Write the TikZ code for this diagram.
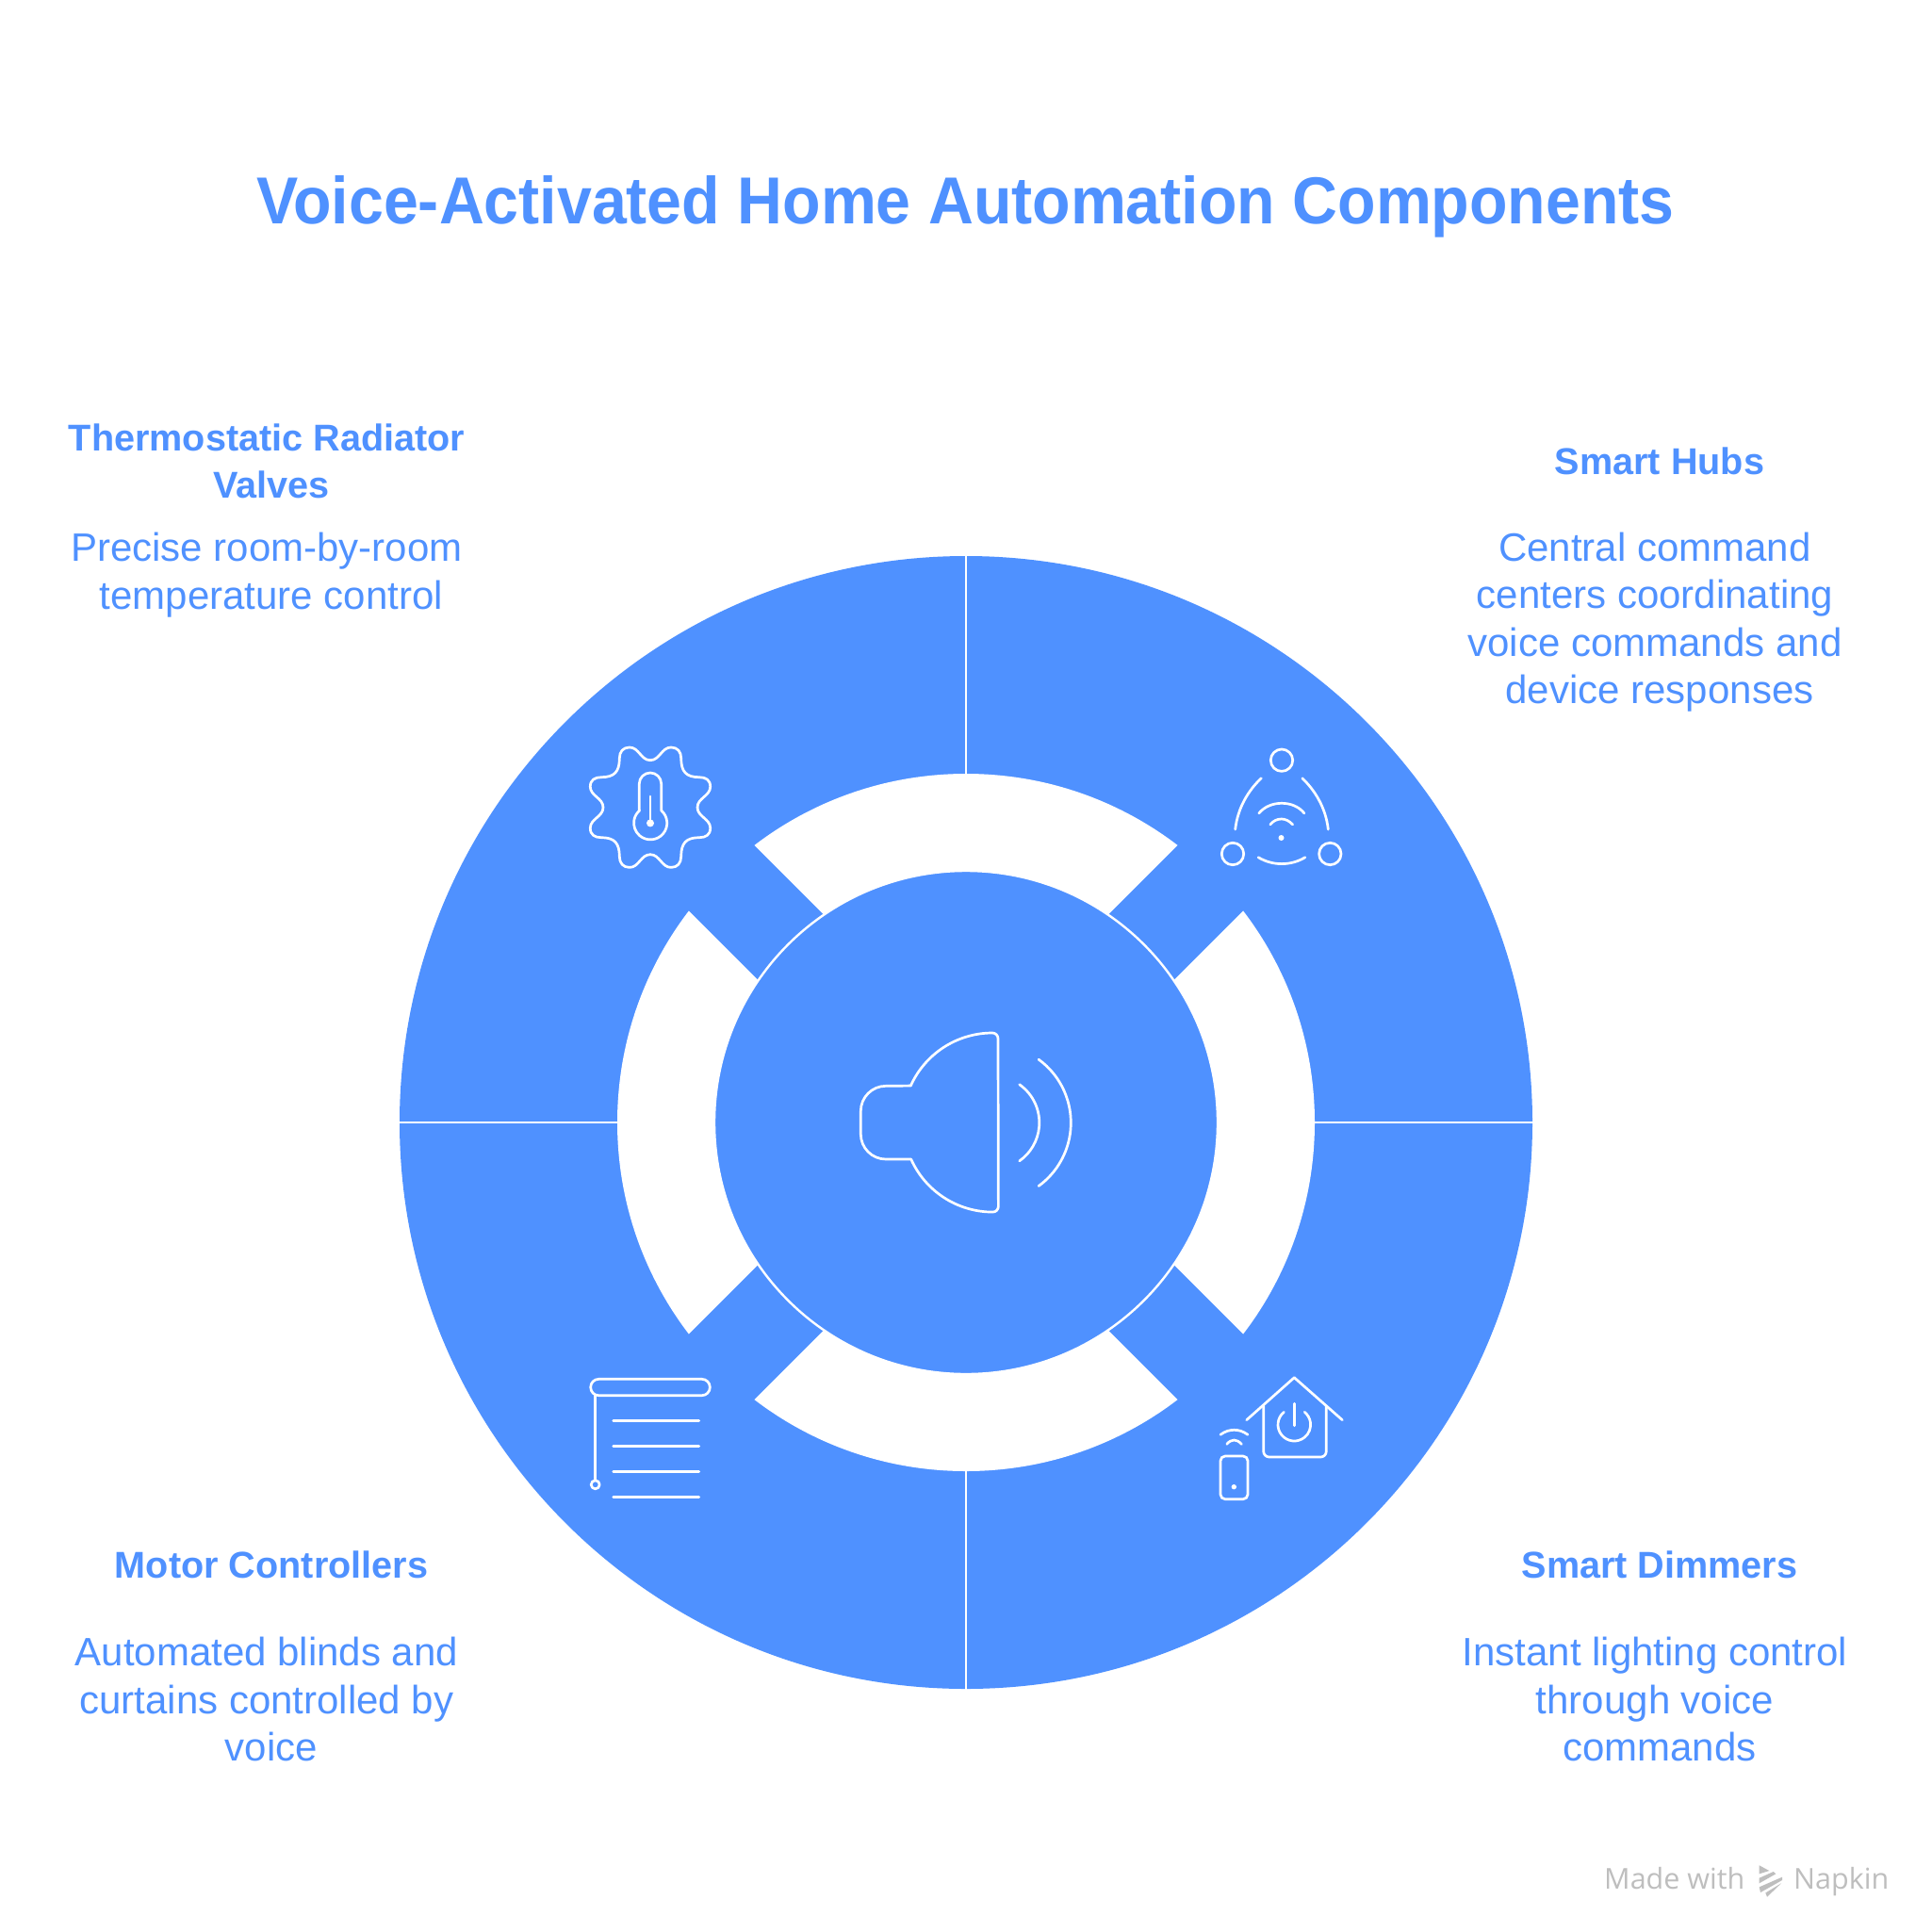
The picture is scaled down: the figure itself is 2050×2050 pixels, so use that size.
\documentclass[tikz,border=0pt]{standalone}
\usepackage{fontspec}
\setmainfont{Liberation Sans}
\newfontfamily\markfont{Open Sans}
\newfontfamily\titlefont[FakeStretch=0.94]{Liberation Sans}
\definecolor{napblue}{HTML}{4F91FF}
\definecolor{markgray}{HTML}{BEBEBE}
\tikzset{
  disc/.style={fill=napblue,draw=none},
  divider/.style={draw=white,line width=2.4pt},
  icon/.style={draw=white,line width=2.7pt,line cap=round,line join=round},
  icondot/.style={fill=white,draw=none},
  titletext/.style={text=napblue,font=\titlefont\fontsize{70.5}{80}\selectfont\bfseries,anchor=center,inner sep=0pt},
  headtext/.style={text=napblue,font=\fontsize{39.6}{50.3}\selectfont\bfseries,align=center,anchor=center,inner sep=0pt},
  bodytext/.style={text=napblue,font=\fontsize{42}{50.3}\selectfont,align=center,anchor=center,inner sep=0pt},
  marktext/.style={text=markgray,font=\markfont\fontsize{30.5}{32}\selectfont,anchor=base west,inner sep=0pt}
}
\newcommand{\trail}{\rule{10pt}{0pt}}
\begin{document}
\begin{tikzpicture}[x=1pt,y=-1pt]
\useasboundingbox (0,0) rectangle (2050,2050);
\fill[white] (0,0) rectangle (2050,2050);
% wheel
\fill[disc] (1025,1191) circle (601);
\fill[white] (1025,1191) circle (370);
\foreach \a in {45,135,225,315}{
  \fill[disc,rotate around={\a:(1025,1191)}] (1275,1142) rectangle (1500,1240);
}
\foreach \a in {0,90,180,270}{
  \draw[divider] (1025,1191) ++(\a:369) -- ++(\a:233);
}
\fill[disc,draw=white,line width=2.4pt] (1025,1191) circle (267);
% speaker
\draw[icon] (1059,1102) arc (0:-90:6) arc (270:204.2:95) -- (940,1152.3)
  arc (270:180:26.7) -- (913.3,1203.3) arc (180:90:26.7) -- (966.7,1230)
  arc (155.8:90:95) arc (90:0:6) -- cycle;
\draw[icon] (1053.3,1191.3) ++(-55:49.5) arc (-55:55:49.5);
\draw[icon] (1053.3,1191.3) ++(-54:83) arc (-54:54:83);
% gear
\foreach \sx/\sy in {1/1,-1/1,1/-1,-1/-1}{
  \begin{scope}[shift={(690,856.7)},xscale=\sx,yscale=\sy]
    \draw[icon] (0,-50) .. controls (-10,-50) and (-12,-63.7) .. (-22,-63.7)
      .. controls (-29,-63.7) and (-32.7,-59) .. (-32.7,-52)
      .. controls (-32.7,-38) and (-38,-32) .. (-52,-32)
      .. controls (-59,-32) and (-63.7,-29) .. (-63.7,-22)
      .. controls (-63.7,-12) and (-50,-10) .. (-50,0);
  \end{scope}
}
\draw[icon] (678.3,860) -- (678.3,831.7) arc (180:360:11.7) -- (701.7,860) arc (-49:229:17.6) -- cycle;
\draw[icon] (690,845) -- (690,873.4);
\fill[icondot] (690,873.4) circle (4);
% hub
\draw[icon] (1360,806.7) circle (11.7);
\draw[icon] (1308,906) circle (11.7);
\draw[icon] (1411.3,906) circle (11.7);
\draw[icon] (1310.7,880) .. controls (1313.3,856.7) and (1325,838.3) .. (1338.3,825.7);
\draw[icon] (1409.3,880) .. controls (1406.7,856.7) and (1395,838.3) .. (1381.7,825.7);
\draw[icon] (1360,868.3) ++(121:48.3) arc (121:59:48.3);
\draw[icon] (1347.7,875) .. controls (1351,871) and (1355,869) .. (1359.7,869) .. controls (1364,869) and (1368,871) .. (1371.7,875);
\draw[icon] (1335.7,863) .. controls (1342,855.5) and (1351,852.3) .. (1360,852.3) .. controls (1369,852.3) and (1378,855.5) .. (1384,863);
\fill[icondot] (1359.5,889) circle (3);
% dimmer
\draw[icon] (1322.7,1506.7) -- (1373.3,1461.7) -- (1424.3,1506.7);
\draw[icon,rounded corners=6pt] (1340.7,1491.7) -- (1340.7,1546) -- (1407.3,1546) -- (1407.3,1491.7);
\draw[icon] (1373.3,1511.7) ++(231:17.3) arc (231:-51:17.3);
\draw[icon] (1373.3,1489.3) -- (1373.3,1512.7);
\draw[icon,rounded corners=5pt] (1295,1545) rectangle (1324,1590.7);
\fill[icondot] (1309.3,1577.7) circle (2.7);
\draw[icon] (1295,1522.3) .. controls (1300,1518.5) and (1305,1517.3) .. (1309.5,1517.3) .. controls (1314,1517.3) and (1319,1518.5) .. (1324,1522.3);
\draw[icon] (1301.7,1532.3) .. controls (1304,1529.5) and (1307,1528) .. (1309.5,1528) .. controls (1312,1528) and (1315,1529.5) .. (1317.3,1532.3);
% blinds
\draw[icon,rounded corners=8.6pt] (626.7,1463.3) rectangle (753.3,1480.7);
\draw[icon] (631.7,1480.7) -- (631.7,1570.7);
\draw[icon] (631.7,1575.3) circle (4.5);
\foreach \yy in {1507.7,1534.7,1561.7,1588.7}{
  \draw[icon] (650.7,\yy) -- (741.7,\yy);
}
% texts
\node[titletext] (title) at (1024.4,219) {Voice-Activated Home Automation Components};
\node[headtext] (h1) at (288,489) {Thermostatic Radiator\trail\\Valves};
\node[bodytext] (b1) at (288,610) {Precise room-by-room\trail\\temperature control};
\node[headtext] (h2) at (1761,489) {Smart Hubs};
\node[bodytext] (b2) at (1761,660) {Central command\trail\\centers coordinating\trail\\voice commands and\trail\\device responses};
\node[headtext] (h3) at (1761,1660) {Smart Dimmers};
\node[bodytext] (b3) at (1761,1803) {Instant lighting control\trail\\through voice\trail\\commands};
\node[headtext] (h4) at (288,1660) {Motor Controllers};
\node[bodytext] (b4) at (288,1803) {Automated blinds and\trail\\curtains controlled by\trail\\voice};
% watermark
\node[marktext] (m1) at (1702,2004) {Made with};
\node[marktext] (m2) at (1903,2004) {Napkin};
\fill[markgray] (1866.7,1979.3) -- (1877.3,1985) -- (1866.7,1988.3) -- cycle;
\fill[markgray] (1866.7,1992.7) -- (1881.7,1986) -- (1884.3,1988.3) -- (1866.7,1998.3) -- cycle;
\fill[markgray] (1866.7,2002.3) -- (1891,1991.7) -- (1891,1995) -- (1868,2008) -- cycle;
\fill[markgray] (1873.3,2008.5) -- (1890,1998.3) -- (1875,2012.7) -- cycle;
\end{tikzpicture}
\end{document}
